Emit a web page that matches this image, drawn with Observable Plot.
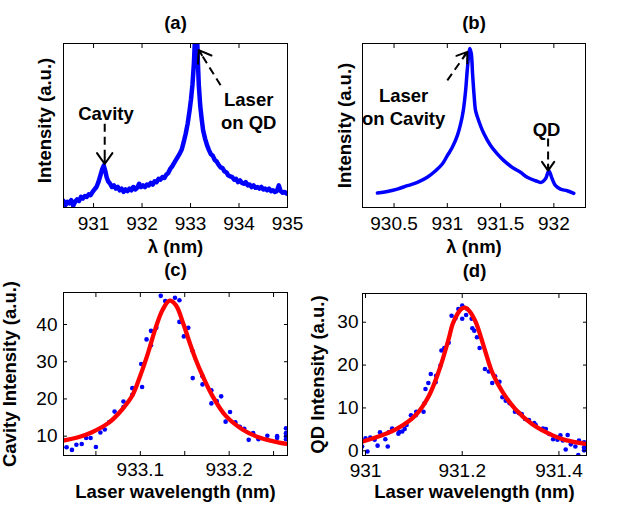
<!DOCTYPE html>
<html><head><meta charset="utf-8">
<script src="https://cdn.jsdelivr.net/npm/d3@7"></script>
<script src="https://cdn.jsdelivr.net/npm/@observablehq/plot@0.6"></script>
<style>
body{margin:0;background:#fff;}
#fig{position:relative;width:628px;height:507px;background:#fff;}
#fig svg{position:absolute;overflow:visible;}
</style></head><body><div id="fig"></div>
<script>
// ---------- Panel (a): spectrum, laser on QD ----------
const aLambda = [930.38,930.42,930.46,930.50,930.54,930.58,930.62,930.66,930.70,930.74,930.78,930.82,930.86,930.90,930.94,930.98,
931.02,931.06,931.10,931.14,931.18,931.21,931.24,931.27,931.30,931.34,931.38,931.42,931.46,931.50,931.54,931.58,931.62,931.66,931.70,931.74,931.78,931.82,931.86,931.90,931.94,931.98,
932.02,932.06,932.10,932.14,932.18,932.22,932.26,932.30,932.34,932.38,932.42,932.46,932.50,932.54,932.58,932.62,932.66,932.70,932.74,932.78,932.82,932.86,932.90,932.94,932.98,
933.01,933.04,933.07,933.09,933.11,933.13,933.15,933.17,933.20,933.23,933.26,933.30,933.34,933.38,933.42,933.46,933.50,933.54,933.58,933.62,933.66,933.70,933.74,933.78,933.82,933.86,933.90,933.94,933.98,
934.02,934.06,934.10,934.14,934.18,934.22,934.26,934.30,934.34,934.38,934.42,934.46,934.50,934.54,934.58,934.62,934.66,934.70,934.74,934.78,934.82,934.86,934.90,934.94,934.98,935.00];
const aIntensity = [4,1.5,3.5,2.5,4.5,1,3.5,5,4,6.5,5.5,7,6.5,8,7.5,9.5,
11,12.5,15.5,19.5,23.5,25.5,22.5,18.5,16,14.5,12.5,13.5,11.5,12.5,10.5,11.5,9.5,11,10,11.5,10.5,12.5,11,12,14.5,12.5,
13.5,12.5,14,13.5,15,14,16,15.5,17.5,17,18.5,18,20,21,23.5,25,27,29,31,33,35.5,40,45,51,59,
66,75,88,102,112,110,90,75,62,54,47,42,38,35,32.5,31.5,29,28,26,24.5,24,22,21.5,19.5,19,18.5,17,17.5,15.5,
16.5,15,14.5,15.5,13.5,14,12.5,13.5,12,12.5,11.5,12.5,11,11.5,10.5,11.5,10,10.5,9.5,10,13.5,10,9,9.5,8.5,9];
const aTicks = [931,932,933,934,935];
const aNotes = ["Cavity", "Laser\non QD"];
const aNoteX = [931.256, 934.2];
const aNoteY = [58.1, 59.5];
const aArrowFrom = [[931.23, 51], [933.62, 74.5]];
const aArrowTo = [[931.23, 26.5], [933.17, 96]];

// ---------- Panel (b): spectrum, laser on cavity ----------
const bLambda = [930.344,930.438,930.531,930.625,930.719,930.812,930.89,930.953,931.0,931.047,931.094,931.125,931.15,931.172,931.187,931.203,931.212,
931.225,931.237,931.25,931.265,931.281,931.344,931.406,931.469,931.531,931.609,931.687,931.75,931.828,931.881,931.922,931.953,931.984,932.016,932.062,932.125,932.187];
const bIntensity = [8.8,9.8,11.2,13.3,15.3,18.4,22.4,26.5,31.6,36.7,43.8,51,59.2,71.4,83.7,93.9,97,
93.9,81.7,69.4,59.2,55.5,44.9,37.8,32.7,28.6,24.5,21.5,18.4,16.3,15.3,17.5,22.4,17.5,13.3,11.2,10.2,8.6];
const bTicks = [930.5,931,931.5,932];
const bNotes = ["Laser\non Cavity", "QD"];
const bNoteX = [930.59, 931.931];
const bNoteY = [61.7, 48];
const bArrowFrom = [[931.0, 77.5], [931.946, 42]];
const bArrowTo = [[931.188, 94.9], [931.946, 22.5]];

// ---------- Panel (c): cavity intensity vs laser wavelength ----------
const cLaser = [933.012,933.012,933.012,933.017,933.023,933.028,933.034,933.039,933.044,933.050,933.055,933.060,933.065,933.071,933.081,933.081,933.091,933.091,
933.102,933.101,933.107,933.112,933.112,933.118,933.123,933.128,933.139,933.144,933.144,933.149,933.154,933.159,933.159,933.170,933.170,933.180,933.180,
933.186,933.191,933.196,933.201,933.207,933.212,933.217,933.222,933.227,933.233,933.243,933.254,933.254,933.264,933.264,933.264,933.264];
const cIntensity = [9.4,8.8,7.0,7.0,6.3,7.7,7.9,9.5,9.5,7.1,11.0,11.8,13.8,16.6,17.8,19.3,21.1,22.9,
23.2,29.4,36.0,34.4,38.3,39.1,47.7,46.3,47.2,46.5,40.7,36.8,39.1,32.8,25.6,26.1,23.9,22.3,18.8,
19.4,20.7,13.9,16.5,13.7,12.5,12.0,9.0,10.8,9.2,10.1,10.0,9.5,12.1,10.8,10.0,9.2];
const cFitLaser = [933.013,933.03,933.045,933.065,933.08,933.091,933.1,933.109,933.117,933.125,933.133,933.14,933.148,933.155,933.163,933.17,933.181,933.196,933.215,933.233,933.25,933.265];
const cFitIntensity = [8.8,9.7,11.0,13.7,17.3,20.9,26.3,32.6,38.9,43.9,46.4,45.2,40.5,35.5,30.2,26.3,20.9,15.5,11.8,9.7,8.6,7.9];
const cTicks = [933.05,933.1,933.15,933.2,933.25];
const cTickLabels = [933.1,933.2];
const cYTicks = [10,20,30,40];

// ---------- Panel (d): QD intensity vs laser wavelength ----------
const dLaser = [930.993,930.993,931.004,931.000,931.010,931.019,931.025,931.030,931.041,931.046,931.048,931.055,931.068,931.070,931.076,931.081,931.085,931.094,
931.104,931.105,931.120,931.122,931.124,931.130,931.135,931.145,931.146,931.155,931.157,931.163,931.172,931.178,931.186,931.192,931.200,931.200,931.208,
931.2105,931.2195,931.221,931.225,931.2305,931.236,931.247,931.255,931.262,931.268,931.277,931.283,931.290,931.298,931.309,931.317,931.323,931.330,931.338,
931.349,931.352,931.367,931.373,931.380,931.388,931.397,931.403,931.408,931.414,931.418,931.4245,931.434,931.440,931.4415,931.452,931.452,931.452];
const dIntensity = [2.3,1.0,-0.15,2.9,3.1,2.6,1.2,4.3,2.7,1.0,4.3,5.2,4.0,4.4,4.5,5.1,6.0,8.3,
8.3,9.1,9.1,11.1,14.4,15.8,17.9,16.0,17.5,19.9,23.4,24.0,25.2,31.5,30.9,33.1,33.9,30.8,31.7,
33.1,30.8,28.6,28.0,26.5,24.0,19.1,18.5,15.8,17.4,16.1,12.5,11.7,11.1,9.1,8.8,8.6,7.4,7.2,
6.5,6.0,5.2,5.1,3.9,2.7,2.6,3.6,2.4,0.3,3.7,1.5,1.0,-1.0,2.4,2.0,0.8,0.1];
const dFitLaser = [930.993,931.034,931.069,931.1035,931.131,931.152,931.172,931.18,931.19,931.198,931.206,931.215,931.228,931.245,931.262,931.283,931.31,931.345,931.387,931.414,931.455];
const dFitIntensity = [2.1,3.6,5.4,8.3,12.8,18.7,26.1,29.5,31.9,33.1,33.4,32.6,30.0,24.2,18.3,13.8,9.7,6.2,3.6,2.5,1.6];
const dTicks = [931,931.2,931.4];
const dYTicks = [0,10,20,30];

// ---------- helpers ----------
const rows = (xs, ys) => xs.map((x, i) => ({x, y: ys[i]}));
const FONT = "'Liberation Sans', Arial, Helvetica, sans-serif";
const BLUE = "#0000ff", RED = "#ff0000";
const TICKFS = 19, BOLDFS = 18.5;

function arrowMarks(from, to, o) {
  const sx = d3.scaleLinear(o.xDomain, [o.m.left, o.width - o.m.right]);
  const sy = d3.scaleLinear(o.yDomain, [o.height - o.m.bottom, o.m.top]);
  const arr = from.map((f, i) => ({x1: f[0], y1: f[1], x2: to[i][0], y2: to[i][1]}));
  const out = [Plot.link(arr, {x1: "x1", y1: "y1", x2: "x2", y2: "y2", stroke: "black", strokeWidth: 2, strokeDasharray: "8,5"})];
  arr.forEach(a => {
    const len = Math.hypot(sx(a.x2) - sx(a.x1), sy(a.y2) - sy(a.y1));
    out.push(Plot.arrow([a], {x1: "x1", y1: "y1", x2: "x2", y2: "y2", stroke: "black", strokeWidth: 2,
      headLength: 11, headAngle: 70, insetStart: Math.max(0, len - 6)}));
  });
  return out;
}

function panel(o) {
  const marks = [...o.marks];
  if (o.notes) {
    marks.push(Plot.text(o.notes.map((t, i) => ({t, x: o.noteX[i], y: o.noteY[i]})),
      {x: "x", y: "y", text: "t", fontWeight: "bold", fontSize: BOLDFS, lineHeight: 1.24, fill: "black"}));
    marks.push(...arrowMarks(o.arrowFrom, o.arrowTo, o));
  }
  marks.push(
    Plot.frame({stroke: "black", strokeWidth: 1}),
    Plot.axisX({anchor: "bottom", ticks: o.xTicks, tickSize: 4, dy: -4, fill: "none", label: null, stroke: "black"}),
    Plot.axisX({anchor: "top", ticks: o.xTicks, tickSize: 4, dy: 4, fill: "none", label: null, stroke: "black"}),
    Plot.axisX({anchor: "bottom", ticks: o.xLabels, tickSize: 0, tickPadding: o.xPad, tickFormat: d => String(d),
      label: null, fill: "black", fontSize: TICKFS})
  );
  if (o.yTicks) {
    marks.push(
      Plot.axisY({anchor: "left", ticks: o.yTicks, tickSize: 4, dx: 4, fill: "none", label: null, stroke: "black"}),
      Plot.axisY({anchor: "right", ticks: o.yTicks, tickSize: 4, dx: -4, fill: "none", label: null, stroke: "black"}),
      Plot.axisY({anchor: "left", ticks: o.yTicks, tickSize: 0, tickPadding: o.yPad, tickFormat: d => String(d),
        label: null, fill: "black", fontSize: TICKFS})
    );
  }
  marks.push(
    Plot.text([o.title], {text: d => d, frameAnchor: "top", lineAnchor: "middle", textAnchor: "middle", dy: o.titleDy,
      fontWeight: "bold", fontSize: BOLDFS, fill: "black"}),
    Plot.text([o.xLabel], {text: d => d, frameAnchor: "bottom", lineAnchor: "middle", textAnchor: "middle", dy: o.xLabelDy,
      fontWeight: "bold", fontSize: BOLDFS, fill: "black"}),
    Plot.text([o.yLabel], {text: d => d, frameAnchor: "left", lineAnchor: "middle", textAnchor: "middle", rotate: -90,
      dx: o.yLabelDx, dy: o.yLabelDy || 0, fontWeight: "bold", fontSize: BOLDFS, fill: "black"})
  );
  const svg = Plot.plot({
    width: o.width, height: o.height,
    marginTop: o.m.top, marginRight: o.m.right, marginBottom: o.m.bottom, marginLeft: o.m.left,
    x: {domain: o.xDomain},
    y: {domain: o.yDomain, axis: o.yTicks ? undefined : null},
    style: {fontFamily: FONT, fontSize: "18px", background: "transparent", color: "black", overflow: "visible"},
    marks
  });
  svg.style.left = o.left + "px";
  svg.style.top = o.top + "px";
  document.getElementById("fig").appendChild(svg);
}

const aData = rows(aLambda, aIntensity);
const bData = rows(bLambda, bIntensity);

panel({
  left: 0, top: 0, width: 314, height: 254, m: {top: 43, right: 27, bottom: 47, left: 63},
  xDomain: [930.38, 935.0], yDomain: [0, 100],
  xTicks: aTicks, xLabels: aTicks, xPad: 9,
  title: "(a)", titleDy: -20, xLabel: "λ (nm)", xLabelDy: 39.5, yLabel: "Intensity (a.u.)", yLabelDx: -18, yLabelDy: -5,
  notes: aNotes, noteX: aNoteX, noteY: aNoteY, arrowFrom: aArrowFrom, arrowTo: aArrowTo,
  marks: [Plot.line(aData, {x: "x", y: "y", stroke: BLUE, strokeWidth: 4.5, strokeLinejoin: "round", clip: true})]
});

panel({
  left: 314, top: 0, width: 314, height: 254, m: {top: 43, right: 43, bottom: 47, left: 48},
  xDomain: [930.204, 932.297], yDomain: [0, 100],
  xTicks: bTicks, xLabels: bTicks, xPad: 9,
  title: "(b)", titleDy: -20, xLabel: "λ (nm)", xLabelDy: 39.5, yLabel: "Intensity (a.u.)", yLabelDx: -17, yLabelDy: 0,
  notes: bNotes, noteX: bNoteX, noteY: bNoteY, arrowFrom: bArrowFrom, arrowTo: bArrowTo,
  marks: [Plot.line(bData, {x: "x", y: "y", stroke: BLUE, strokeWidth: 3.5, strokeLinejoin: "round", curve: "catmull-rom", clip: true})]
});

panel({
  left: 0, top: 254, width: 314, height: 253, m: {top: 38, right: 27, bottom: 52, left: 63},
  xDomain: [933.0135, 933.2657], yDomain: [4.8, 48.6],
  xTicks: cTicks, xLabels: cTickLabels, xPad: 7, yTicks: cYTicks, yPad: 6,
  title: "(c)", titleDy: -22, xLabel: "Laser wavelength (nm)", xLabelDy: 37, yLabel: "Cavity Intensity (a.u.)", yLabelDx: -53,
  marks: [
    Plot.dot(rows(cLaser, cIntensity), {x: "x", y: "y", r: 2.3, fill: BLUE, stroke: null, clip: true}),
    Plot.line(rows(cFitLaser, cFitIntensity), {x: "x", y: "y", stroke: RED, strokeWidth: 4.3, curve: "catmull-rom", clip: true})
  ]
});

panel({
  left: 314, top: 254, width: 314, height: 253, m: {top: 39, right: 42, bottom: 52, left: 48},
  xDomain: [930.9938, 931.457], yDomain: [-1.1, 36.7],
  xTicks: dTicks, xLabels: dTicks, xPad: 8, yTicks: dYTicks, yPad: 4,
  title: "(d)", titleDy: -22, xLabel: "Laser wavelength (nm)", xLabelDy: 37, yLabel: "QD Intensity (a.u.)", yLabelDx: -44,
  marks: [
    Plot.dot(rows(dLaser, dIntensity), {x: "x", y: "y", r: 2.3, fill: BLUE, stroke: null, clip: true}),
    Plot.line(rows(dFitLaser, dFitIntensity), {x: "x", y: "y", stroke: RED, strokeWidth: 4.3, curve: "catmull-rom", clip: true})
  ]
});
</script></body></html>
